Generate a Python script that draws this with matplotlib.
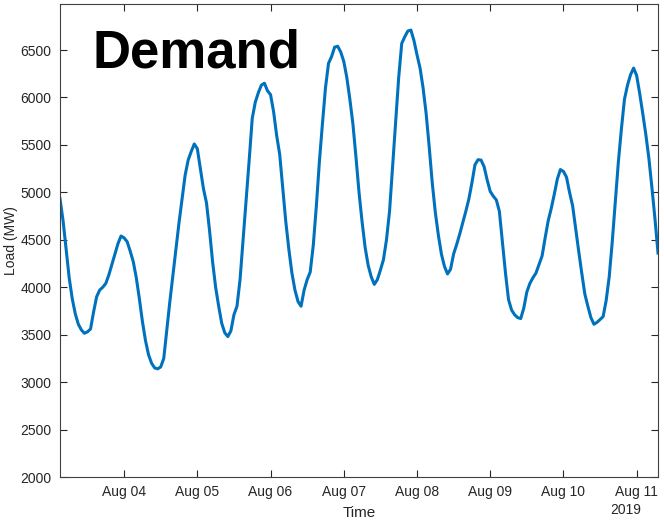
import datetime as dt
import matplotlib
matplotlib.use("Agg")
import matplotlib.pyplot as plt
import matplotlib.dates as mdates

plt.rcParams['font.family'] = ['Liberation Sans', 'DejaVu Sans']

# hourly load, starting Aug 03 2019 03:00
start = dt.datetime(2019, 8, 3, 3)
load_mw = [
    4930, 4700, 4400, 4100, 3880, 3720, 3610, 3550, 3515, 3530, 3560, 3740, 3900,
    3970, 4000, 4040, 4130, 4240, 4350, 4460, 4540, 4520, 4480, 4380, 4270, 4100,
    3880, 3640, 3440, 3290, 3200, 3150, 3140, 3160, 3250, 3550, 3850, 4130, 4400,
    4680, 4930, 5180, 5340, 5430, 5510, 5460, 5250, 5040, 4890, 4600, 4270, 4000,
    3800, 3620, 3520, 3480, 3540, 3710, 3800, 4080, 4500, 4920, 5340, 5780, 5950,
    6050, 6130, 6150, 6070, 6030, 5850, 5600, 5400, 5050, 4690, 4400, 4150, 3970,
    3850, 3800, 3970, 4080, 4160, 4440, 4850, 5320, 5720, 6100, 6360, 6430, 6530,
    6540, 6480, 6380, 6210, 5980, 5720, 5370, 5000, 4690, 4420, 4230, 4110, 4030,
    4080, 4180, 4290, 4500, 4800, 5270, 5750, 6210, 6570, 6640, 6700, 6710, 6600,
    6450, 6310, 6100, 5830, 5480, 5100, 4790, 4550, 4350, 4220, 4140, 4190, 4350,
    4450, 4560, 4680, 4800, 4930, 5100, 5290, 5344, 5340, 5270, 5130, 5010, 4960,
    4920, 4800, 4480, 4150, 3870, 3760, 3710, 3680, 3670, 3780, 3950, 4040, 4100,
    4150, 4240, 4330, 4520, 4700, 4830, 4980, 5140, 5240, 5220, 5160, 5000, 4860,
    4620, 4380, 4150, 3930, 3800, 3680, 3610, 3630, 3660, 3690, 3860, 4110, 4480,
    4900, 5320, 5670, 5980, 6130, 6240, 6310, 6230, 6040, 5830, 5610, 5360, 5050,
    4720, 4360,
]
times = [start + dt.timedelta(hours=i) for i in range(len(load_mw))]

fig = plt.figure(figsize=(6.64, 5.25), dpi=100)
ax = fig.add_axes([0.0904, 0.0914, 0.9006, 0.901])
ax.plot(times, load_mw, color='#0072BD', linewidth=2.2)

ax.set_xlim(times[0], times[-1])
ax.set_ylim(2000, 6985)
ax.set_yticks(range(2000, 7000, 500))
ax.xaxis.set_major_locator(mdates.DayLocator())
ax.xaxis.set_major_formatter(mdates.DateFormatter('%b %d'))

ax.tick_params(direction='in', length=5, width=0.8, colors='#262626',
               labelsize=10, top=True, right=True, pad=6)
for s in ax.spines.values():
    s.set_color('#404040')
    s.set_linewidth(0.8)

ax.set_ylabel('Load (MW)', fontsize=10, color='#262626', labelpad=2)
ax.set_xlabel('Time', fontsize=11, color='#262626', labelpad=5)
fig.text(626 / 664, 1 - 510 / 525, '2019', ha='center', va='center',
         fontsize=10, color='#262626')

ax.text(0.0535, 0.865, 'Demand', transform=ax.transAxes, fontsize=38,
        fontweight='bold', va='baseline', ha='left', color='black')

fig.savefig('out.png', dpi=100)
